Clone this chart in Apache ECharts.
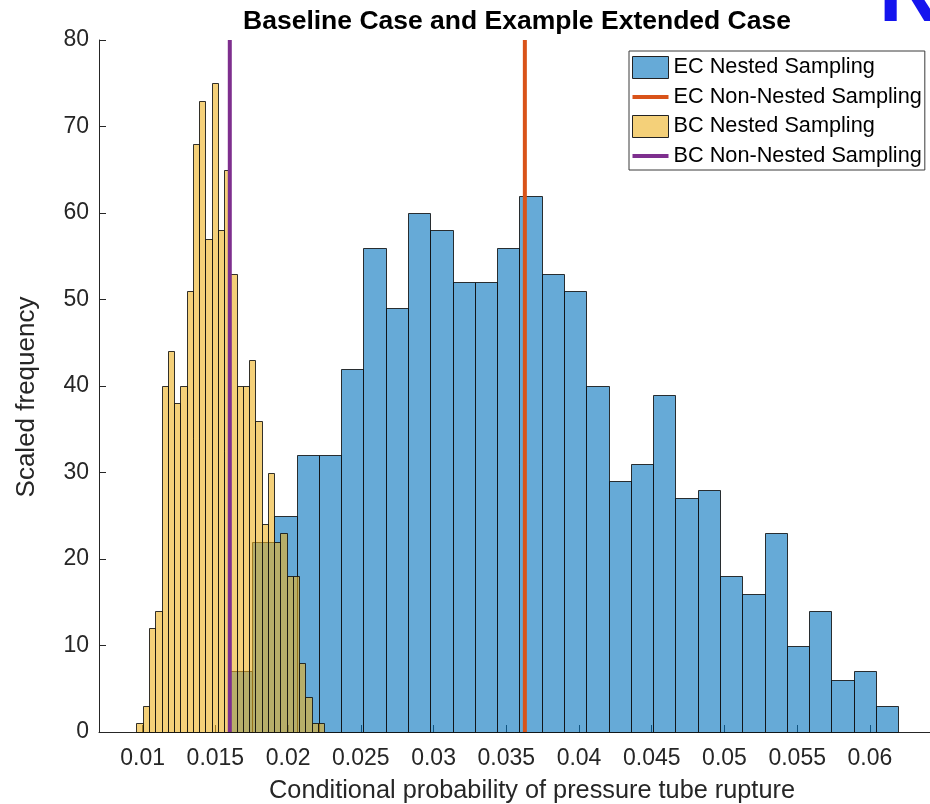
<!DOCTYPE html>
<html>
<head>
<meta charset="utf-8">
<script src="https://cdn.jsdelivr.net/npm/echarts@6/dist/echarts.min.js"></script>
<style>
  html, body { margin: 0; padding: 0; background: #fff; }
  #chart { width: 930px; height: 804px; }
</style>
</head>
<body>
<div id="chart"></div>
<script>
// Scaled-frequency histograms of the conditional probability of pressure tube rupture
const FONT = '"Liberation Sans", Arial, Helvetica, sans-serif';

// Extended Case (EC), nested sampling: 30 equal bins
const ecBinStart = 0.015992;
const ecBinWidth = 0.0015318;
const ecCounts = [7, 22, 25, 32, 32, 42, 56, 49, 60, 58, 52, 52, 56, 62, 53,
                  51, 40, 29, 31, 39, 27, 28, 18, 16, 23, 10, 14, 6, 7, 3];

// Baseline Case (BC), nested sampling: 30 equal bins
const bcBinStart = 0.009577;
const bcBinWidth = 0.00043;
const bcCounts = [1, 3, 12, 14, 40, 44, 38, 40, 51, 68, 73, 57, 75, 58, 65,
                  53, 40, 40, 43, 36, 24, 30, 22, 23, 18, 18, 8, 4, 1, 1];

// Non-nested sampling estimates (vertical reference lines)
const ecNonNested = 0.036277;
const bcNonNested = 0.015992;

// Axis ticks
const xTickValues = [0.01, 0.015, 0.02, 0.025, 0.03, 0.035, 0.04, 0.045, 0.05, 0.055, 0.06];
const xTickLabels = ['0.01', '0.015', '0.02', '0.025', '0.03', '0.035', '0.04', '0.045', '0.05', '0.055', '0.06'];
const yTickValues = [0, 10, 20, 30, 40, 50, 60, 70, 80];

const seriesNames = ['EC Nested Sampling', 'EC Non-Nested Sampling', 'BC Nested Sampling', 'BC Non-Nested Sampling'];

const ecFill = 'rgba(0,114,189,0.6)';
const bcFill = 'rgba(237,177,32,0.6)';
const ecLineColor = '#D95319';
const bcLineColor = '#7E2F8E';
const edgeColor = 'rgba(15,15,15,0.85)';
const axisColor = '#262626';

function binsToData(start, width, counts) {
  return counts.map((c, i) => [start + i * width, start + (i + 1) * width, c]);
}

function renderBin(fill) {
  return function (params, api) {
    const a = api.coord([api.value(0), api.value(2)]);
    const b = api.coord([api.value(1), 0]);
    const x0 = Math.round(a[0]) + 0.5, x1 = Math.round(b[0]) + 0.5;
    const y0 = Math.round(a[1]) + 0.5, y1 = Math.round(b[1]) + 0.5;
    return {
      type: 'rect',
      shape: { x: x0, y: y0, width: x1 - x0, height: y1 - y0 },
      style: { fill: fill, stroke: edgeColor, lineWidth: 1 }
    };
  };
}

function renderVLine(color) {
  return function (params, api) {
    const lo = api.coord([api.value(0), 0]);
    const hi = api.coord([api.value(0), 80]);
    return {
      type: 'line',
      shape: { x1: lo[0], y1: lo[1], x2: hi[0], y2: hi[1] },
      style: { stroke: color, lineWidth: 4 }
    };
  };
}

const lineIcon = 'path://M0,0 L36,0 L36,4 L0,4 Z';

const chart = echarts.init(document.getElementById('chart'), null, { renderer: 'canvas' });

chart.setOption({
  backgroundColor: '#ffffff',
  animation: false,
  textStyle: { fontFamily: FONT },
  graphic: [
    {
      type: 'text',
      x: 517, y: 8,
      style: {
        text: 'Baseline Case and Example Extended Case',
        font: 'bold 26.5px ' + FONT,
        fill: '#000',
        textAlign: 'center'
      }
    },
    {
      type: 'text',
      x: 532, y: 791,
      style: {
        text: 'Conditional probability of pressure tube rupture',
        font: '25.3px ' + FONT,
        fill: axisColor,
        textAlign: 'center',
        textVerticalAlign: 'middle'
      }
    },
    {
      type: 'text',
      x: 27, y: 397,
      rotation: Math.PI / 2,
      style: {
        text: 'Scaled frequency',
        font: '26px ' + FONT,
        fill: axisColor,
        textAlign: 'center',
        textVerticalAlign: 'middle'
      }
    },
    {
      type: 'text',
      x: 879, y: -44,
      style: { text: 'R', font: 'bold 84px ' + FONT, fill: '#1414ee' }
    }
  ],
  grid: { left: 99, top: 40, width: 831, height: 692, containLabel: false },
  legend: {
    orient: 'vertical',
    left: 629, top: 51,
    padding: [5, 3, 3, 3],
    itemWidth: 36, itemHeight: 22, itemGap: 7,
    borderColor: '#3a3a3a', borderWidth: 1,
    backgroundColor: '#fff',
    selectedMode: false,
    textStyle: { fontSize: 21.7, color: '#000', fontFamily: FONT },
    data: [
      { name: seriesNames[0], icon: 'rect', itemStyle: { color: ecFill, borderColor: '#222', borderWidth: 1 } },
      { name: seriesNames[1], icon: lineIcon, itemStyle: { color: ecLineColor, borderWidth: 0 } },
      { name: seriesNames[2], icon: 'rect', itemStyle: { color: bcFill, borderColor: '#222', borderWidth: 1 } },
      { name: seriesNames[3], icon: lineIcon, itemStyle: { color: bcLineColor, borderWidth: 0 } }
    ]
  },
  xAxis: {
    type: 'value',
    min: 0.007, max: 0.06413,
    axisLine: { show: true, lineStyle: { color: axisColor, width: 1 } },
    axisTick: { show: true, inside: true, length: 7, customValues: xTickValues, lineStyle: { color: axisColor } },
    axisLabel: {
      customValues: xTickValues,
      margin: 15,
      fontSize: 23, color: axisColor, fontFamily: FONT,
      formatter: function (v) {
        let best = 0;
        xTickValues.forEach((t, i) => { if (Math.abs(t - v) < Math.abs(xTickValues[best] - v)) best = i; });
        return xTickLabels[best];
      }
    },
    splitLine: { show: false }
  },
  yAxis: {
    type: 'value',
    min: 0, max: 80, interval: 10,
    axisLine: { show: true, lineStyle: { color: axisColor, width: 1 } },
    axisTick: { show: true, inside: true, length: 7, customValues: yTickValues, lineStyle: { color: axisColor } },
    axisLabel: { customValues: yTickValues, margin: 10, padding: [7, 0, 0, 0], fontSize: 23, color: axisColor, fontFamily: FONT },
    splitLine: { show: false }
  },
  series: [
    {
      name: seriesNames[0], type: 'custom',
      itemStyle: { color: ecFill },
      renderItem: renderBin(ecFill),
      encode: { x: [0, 1], y: 2 },
      data: binsToData(ecBinStart, ecBinWidth, ecCounts),
      z: 2
    },
    {
      name: seriesNames[2], type: 'custom',
      itemStyle: { color: bcFill },
      renderItem: renderBin(bcFill),
      encode: { x: [0, 1], y: 2 },
      data: binsToData(bcBinStart, bcBinWidth, bcCounts),
      z: 3
    },
    {
      name: seriesNames[1], type: 'custom',
      itemStyle: { color: ecLineColor },
      renderItem: renderVLine(ecLineColor),
      encode: { x: 0 },
      data: [[ecNonNested]],
      z: 4
    },
    {
      name: seriesNames[3], type: 'custom',
      itemStyle: { color: bcLineColor },
      renderItem: renderVLine(bcLineColor),
      encode: { x: 0 },
      data: [[bcNonNested]],
      z: 4
    }
  ]
});
</script>
</body>
</html>
